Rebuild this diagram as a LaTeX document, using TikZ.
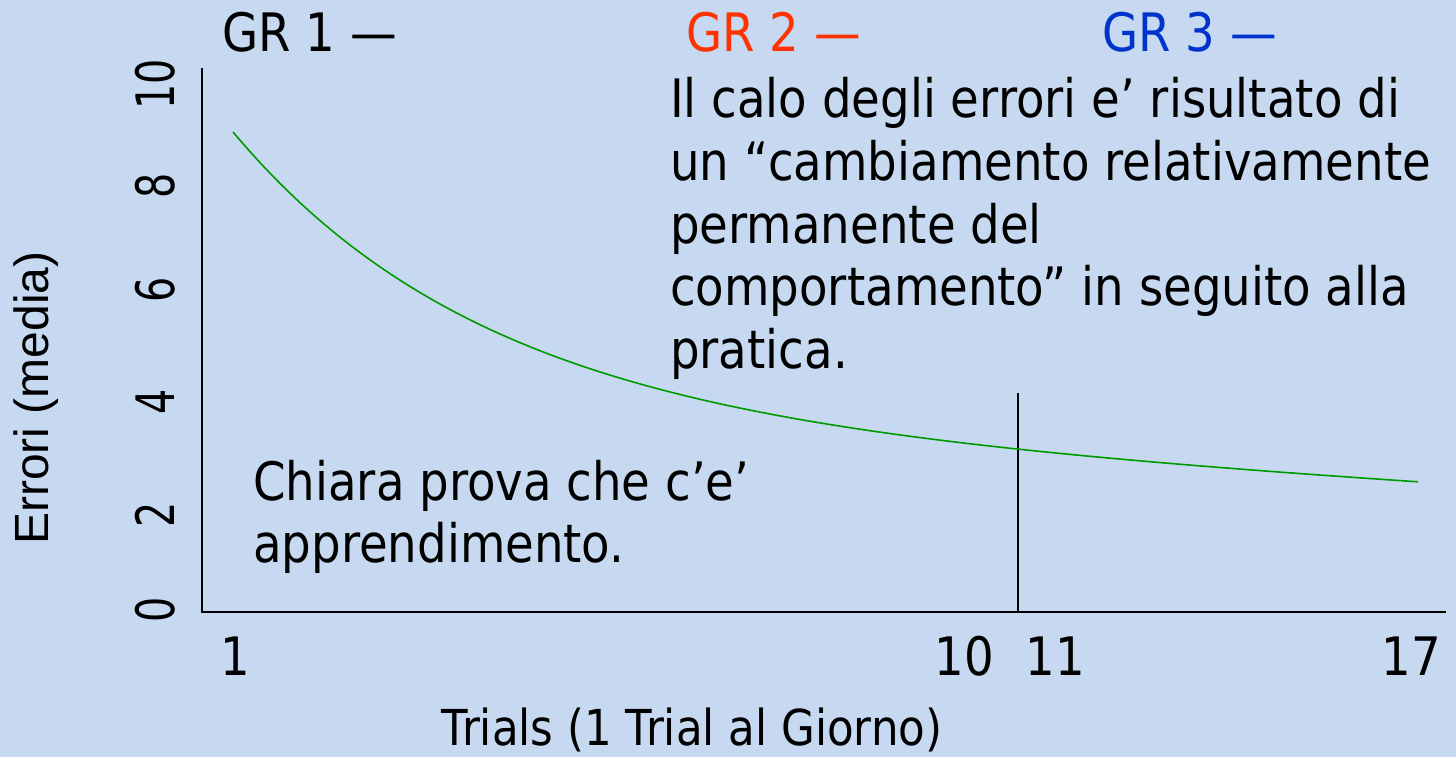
\documentclass[tikz,border=0pt]{standalone}
\usepackage{fontspec}
\setmainfont[FakeStretch=0.88]{DejaVu Sans}
\newfontfamily\arialf{Liberation Sans}
\definecolor{bgblue}{RGB}{198,217,240}
\definecolor{grred}{RGB}{255,51,0}
\definecolor{grblue}{RGB}{0,51,204}
\definecolor{curvegreen}{RGB}{0,153,0}
\tikzset{
  txt/.style={inner sep=0pt, anchor=base west, font=\fontsize{53}{62}\selectfont},
  tick/.style={inner sep=0pt, anchor=base, font=\fontsize{53}{62}\selectfont},
  ytick/.style={inner sep=0pt, rotate=90, anchor=center, font=\fontsize{53}{62}\selectfont},
  axis/.style={line width=2pt, black},
}
\begin{document}
\begin{tikzpicture}[x=1pt,y=-1pt]
\path[fill=bgblue, use as bounding box] (0,0) rectangle (1456,757);

% legend
\node[txt] (gr1) at (222,52) {GR 1 —};
\node[txt, text=grred] (gr2) at (686,52) {GR 2 —};
\node[txt, text=grblue] (gr3) at (1102,52) {GR 3 —};

% axes
\coordinate (ytop) at (202,68);
\coordinate (origin) at (202,612);
\coordinate (xend) at (1446,612);
\coordinate (mtop) at (1018,393);
\coordinate (mbot) at (1018,612);
\draw[axis] (ytop) -- (origin) -- (xend);
\draw[line width=1.5pt] (mtop) -- (mbot);

% y ticks
\node[ytick] (y0) at (155,610) {\scalebox{0.85}[1]{0}};
\node[ytick] (y2) at (155,515) {\scalebox{0.85}[1]{2}};
\node[ytick] (y4) at (155,402) {\scalebox{0.85}[1]{4}};
\node[ytick] (y6) at (155,290) {\scalebox{0.85}[1]{6}};
\node[ytick] (y8) at (155,186) {\scalebox{0.85}[1]{8}};
\node[ytick] (y10) at (155,84) {\scalebox{0.85}[1]{10}};
\node[inner sep=0pt, rotate=90, anchor=center, font=\arialf\fontsize{48}{56}\selectfont] (ylab) at (36,398) {Errori (media)};

% x ticks
\node[tick] (x1) at (235,675) {1};
\node[tick] (x10) at (964,675) {10};
\node[tick] (x11) at (1055,675) {11};
\node[tick] (x17) at (1411,675) {17};
\node[inner sep=0pt, anchor=base, font=\fontsize{49.5}{56}\selectfont] (xlab) at (692,745) {Trials (1 Trial al Giorno)};

% curve
\draw[curvegreen, line width=1.6pt] plot[domain=233:1418, samples=90, smooth]
  (\x, {416.5-284.5*exp(-(\x-233)/250)+0.0572*(\x-233)});

% text blocks
\node[txt] (t1) at (670,118) {Il calo degli errori e’ risultato di};
\node[txt] (t2) at (670,180) {un “cambiamento relativamente};
\node[txt] (t3) at (670,243) {permanente del};
\node[txt] (t4) at (670,305) {comportamento” in seguito alla};
\node[txt] (t5) at (670,368) {pratica.};
\node[txt] (c1) at (253,500) {Chiara prova che c’e’};
\node[txt] (c2) at (253,562) {apprendimento.};
\end{tikzpicture}
\end{document}
